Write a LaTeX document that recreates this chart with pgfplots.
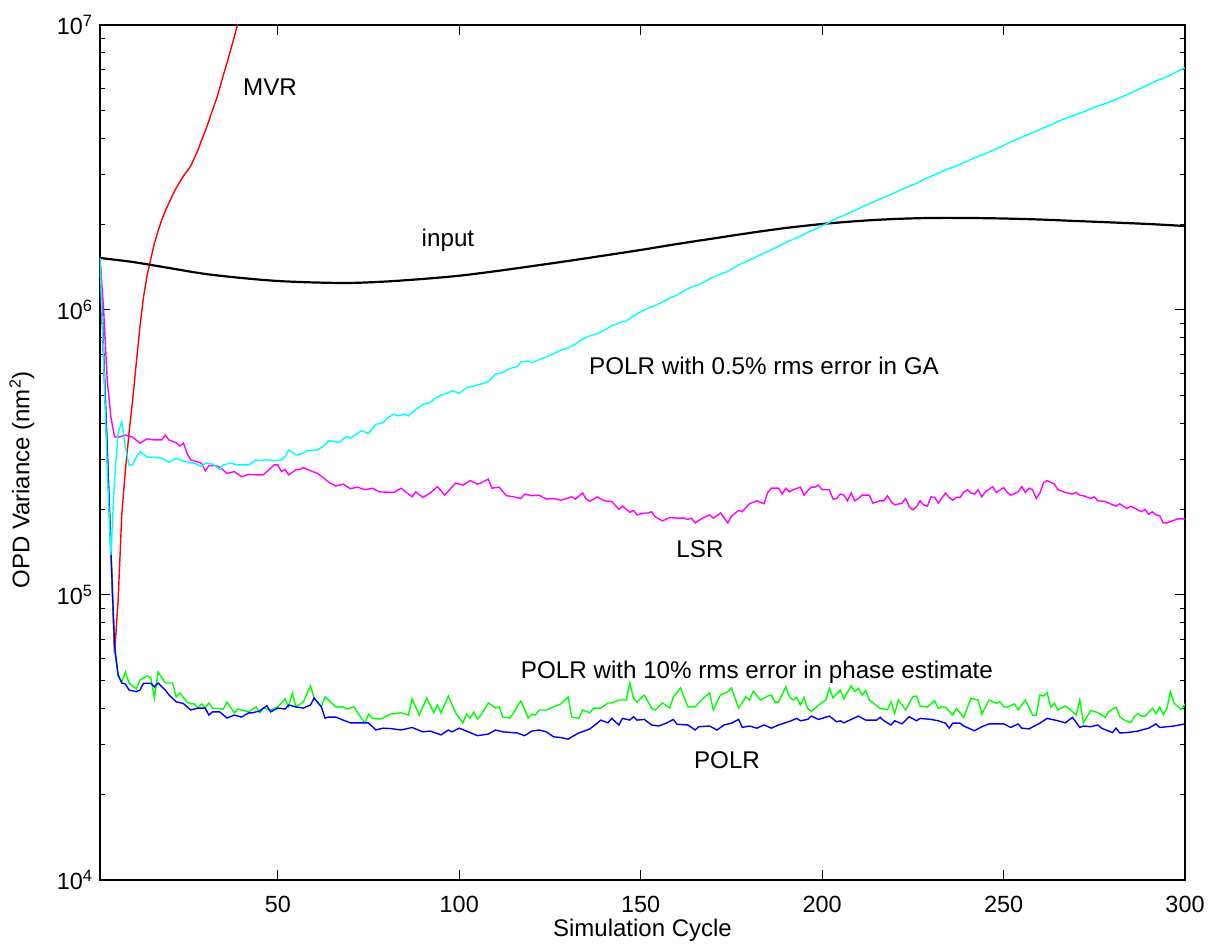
\documentclass[border=0pt]{standalone}
\usepackage{fontspec}
\setmainfont{Liberation Sans}
\usepackage{pgfplots}
\pgfplotsset{compat=1.18}
\definecolor{mred}{RGB}{255,0,0}
\definecolor{mcyan}{RGB}{0,255,255}
\definecolor{mmag}{RGB}{255,0,255}
\definecolor{mgreen}{RGB}{0,255,0}
\definecolor{mblue}{RGB}{0,0,255}
\begin{document}
\begin{tikzpicture}
\useasboundingbox (-50pt,-31.5pt) rectangle (554pt,440pt);
\begin{axis}[
  at={(0,0)}, anchor=south west,
  width=542.5pt, height=427.5pt, scale only axis,
  xmin=1, xmax=300, ymin=1e4, ymax=1e7, ymode=log,
  xtick={50,100,150,200,250,300},
  xticklabels={50,100,150,200,250,300},
  ytick={1e4,1e5,1e6,1e7},
  yticklabels={10\textsuperscript{4},10\textsuperscript{5},10\textsuperscript{6},10\textsuperscript{7}},
  minor ytick={2e4,3e4,4e4,5e4,6e4,7e4,8e4,9e4,2e5,3e5,4e5,5e5,6e5,7e5,8e5,9e5,2e6,3e6,4e6,5e6,6e6,7e6,8e6,9e6},
  tick align=inside,
  major tick length=5pt, minor tick length=2.5pt,
  tick style={black, line width=0.5pt},
  axis line style={line width=0.9pt},
  tick label style={font=\fontsize{11.7}{13}\selectfont},
  xticklabel style={yshift=-4.5pt},
  xlabel={Simulation Cycle},
  ylabel={OPD Variance (nm\textsuperscript{2})},
  every axis x label/.style={at={(axis description cs:0.5,-0.0585)}, anchor=center, font=\fontsize{12}{14}\selectfont},
  every axis y label/.style={at={(axis description cs:-0.072,0.468)}, anchor=center, rotate=90, font=\fontsize{12}{14}\selectfont},
  clip=true,
]
% MVR (red)
\addplot[mred, line width=0.7pt] coordinates {
(1,1.522e6)(2,6.95e5)(3,3.18e5)(4,1.44e5)(5,6.21e4)(6,9.60e4)(7,1.909e5)(8,2.745e5)(9,3.702e5)(10,4.833e5)
(11,6.52e5)(12,8.72e5)(13,1.111e6)(14,1.327e6)(15,1.510e6)(16,1.718e6)(17,1.893e6)(18,2.069e6)(19,2.225e6)(20,2.374e6)
(21,2.532e6)(22,2.680e6)(23,2.813e6)(24,2.952e6)(25,3.074e6)(26,3.201e6)(27,3.414e6)(28,3.642e6)(29,3.949e6)(30,4.247e6)
(31,4.604e6)(32,5.032e6)(33,5.456e6)(34,6.011e6)(35,6.676e6)(36,7.357e6)(37,8.171e6)(38,9.075e6)(39,1.016e7)(40,1.129e7)
};
% input (black)
\addplot[black, line width=1.1pt, smooth] coordinates {
(1,1.522e6)(10,1.474e6)(20,1.404e6)(30,1.338e6)(40,1.295e6)(50,1.264e6)(60,1.249e6)(70,1.244e6)(80,1.259e6)(90,1.285e6)
(100,1.319e6)(110,1.368e6)(120,1.425e6)(130,1.486e6)(140,1.553e6)(150,1.624e6)(160,1.704e6)(170,1.782e6)(180,1.863e6)(190,1.940e6)
(200,2.003e6)(210,2.052e6)(220,2.086e6)(230,2.103e6)(240,2.103e6)(250,2.094e6)(260,2.077e6)(270,2.052e6)(280,2.028e6)(290,2.003e6)(300,1.971e6)
};
% POLR 10% phase error (green)
\addplot[mgreen, line width=0.7pt] coordinates {
(1,1.522e6)(2,6.95e5)(3,3.18e5)(4,1.44e5)(5,6.41e4)(6,5.20e4)(7,4.95e4)(8,5.37e4)(9,4.91e4)(11,4.68e4)
(12,5.03e4)(14,5.20e4)(15,5.12e4)(16,4.35e4)(17,5.37e4)(19,4.91e4)(21,4.91e4)(22,4.39e4)(23,4.53e4)(25,4.21e4)
(26,4.15e4)(27,4.15e4)(28,4.01e4)(29,4.15e4)(30,4.01e4)(31,4.18e4)(32,4.01e4)(35,3.98e4)(36,4.21e4)(38,3.86e4)
(39,3.98e4)(42,3.89e4)(44,4.05e4)(45,3.86e4)(46,4.01e4)(48,3.95e4)(50,4.05e4)(52,4.32e4)(53,4.05e4)(54,4.53e4)
(55,4.05e4)(57,4.21e4)(59,4.80e4)(60,4.35e4)(62,4.05e4)(63,4.39e4)(64,4.28e4)(66,4.05e4)(68,4.05e4)(69,3.98e4)
(71,4.05e4)(72,3.86e4)(74,3.56e4)(75,3.82e4)(76,3.70e4)(78,3.67e4)(79,3.70e4)(81,3.82e4)(84,3.86e4)(86,3.79e4)
(87,4.32e4)(89,3.79e4)(91,4.35e4)(93,3.86e4)(94,4.11e4)(95,3.86e4)(97,4.42e4)(99,3.86e4)(101,3.56e4)(102,3.82e4)
(103,3.70e4)(104,3.89e4)(105,3.67e4)(106,3.79e4)(108,4.18e4)(110,4.01e4)(111,4.05e4)(112,3.73e4)(114,3.70e4)(117,4.25e4)
(119,3.70e4)(120,3.82e4)(121,3.79e4)(122,3.95e4)(124,3.95e4)(126,4.05e4)(128,4.15e4)(130,4.39e4)(131,3.73e4)(133,3.70e4)
(134,3.95e4)(136,3.86e4)(137,4.01e4)(139,4.01e4)(141,4.18e4)(142,4.18e4)(144,4.28e4)(146,4.28e4)(147,4.91e4)(148,4.35e4)
(149,4.21e4)(151,4.46e4)(153,4.01e4)(154,3.95e4)(156,4.18e4)(158,4.01e4)(159,4.39e4)(161,4.72e4)(163,4.05e4)(165,4.05e4)
(167,4.32e4)(169,4.53e4)(170,3.95e4)(172,4.46e4)(174,4.57e4)(175,4.72e4)(177,4.01e4)(179,4.39e4)(180,4.28e4)(181,4.60e4)
(183,4.28e4)(185,4.42e4)(186,4.46e4)(187,4.21e4)(188,4.21e4)(190,4.76e4)(191,4.39e4)(192,4.28e4)(193,4.37e4)(194,4.11e4)
(195,4.37e4)(196,4.00e4)(197,3.90e4)(199,4.11e4)(201,4.28e4)(202,4.71e4)(203,4.35e4)(205,4.64e4)(206,4.32e4)(208,4.80e4)
(209,4.58e4)(210,4.71e4)(211,4.46e4)(212,4.62e4)(213,4.28e4)(216,4.00e4)(218,3.96e4)(219,4.22e4)(220,3.84e4)(221,4.28e4)
(223,3.95e4)(225,4.40e4)(226,4.42e4)(227,4.08e4)(229,4.04e4)(231,4.26e4)(232,4.00e4)(233,4.06e4)(234,4.04e4)(236,3.79e4)
(237,4.00e4)(239,3.72e4)(241,4.34e4)(243,4.28e4)(244,3.82e4)(246,4.28e4)(248,4.17e4)(249,4.22e4)(250,4.06e4)(251,4.04e4)
(253,4.15e4)(254,3.95e4)(256,4.28e4)(258,3.79e4)(259,3.79e4)(260,4.46e4)(261,4.42e4)(262,4.54e4)(263,4.04e4)(264,4.17e4)
(265,3.95e4)(267,4.08e4)(268,4.00e4)(270,3.79e4)(271,4.28e4)(272,3.56e4)(274,3.93e4)(276,3.87e4)(278,3.72e4)(279,3.90e4)
(281,4.04e4)(282,3.74e4)(283,3.66e4)(285,3.56e4)(286,3.74e4)(287,3.84e4)(288,3.76e4)(289,3.76e4)(291,4.00e4)(292,3.84e4)
(293,4.04e4)(294,3.81e4)(295,4.00e4)(296,4.58e4)(297,4.17e4)(299,3.96e4)(300,4.15e4)
};
% POLR (blue)
\addplot[mblue, line width=0.7pt] coordinates {
(1,1.522e6)(2,6.95e5)(3,3.18e5)(4,1.44e5)(5,6.68e4)(6,5.24e4)(7,4.91e4)(8,4.87e4)(9,4.64e4)(11,4.58e4)
(12,4.64e4)(13,4.90e4)(15,4.90e4)(16,4.76e4)(17,4.91e4)(19,4.64e4)(20,4.46e4)(22,4.22e4)(24,4.16e4)(26,3.95e4)
(28,4.01e4)(30,4.01e4)(31,3.79e4)(32,3.89e4)(34,3.89e4)(36,3.70e4)(38,3.79e4)(40,3.73e4)(42,3.86e4)(43,3.86e4)
(45,3.92e4)(47,4.09e4)(48,3.89e4)(50,4.01e4)(52,3.98e4)(53,4.11e4)(55,4.05e4)(57,4.01e4)(59,4.11e4)(60,4.35e4)
(62,4.05e4)(63,3.70e4)(64,3.73e4)(66,3.73e4)(68,3.64e4)(70,3.56e4)(72,3.56e4)(75,3.56e4)(77,3.36e4)(79,3.41e4)
(81,3.40e4)(84,3.36e4)(87,3.43e4)(90,3.31e4)(92,3.33e4)(95,3.23e4)(97,3.36e4)(98,3.31e4)(100,3.41e4)(102,3.33e4)
(105,3.21e4)(108,3.25e4)(110,3.36e4)(112,3.31e4)(116,3.28e4)(118,3.21e4)(120,3.33e4)(122,3.36e4)(124,3.31e4)(126,3.18e4)
(128,3.16e4)(130,3.12e4)(131,3.18e4)(133,3.28e4)(136,3.39e4)(138,3.55e4)(139,3.64e4)(141,3.56e4)(142,3.69e4)(144,3.50e4)
(145,3.69e4)(147,3.64e4)(148,3.74e4)(149,3.64e4)(151,3.66e4)(153,3.50e4)(155,3.47e4)(157,3.55e4)(159,3.66e4)(160,3.52e4)
(163,3.50e4)(165,3.36e4)(166,3.45e4)(169,3.47e4)(171,3.36e4)(173,3.50e4)(175,3.55e4)(177,3.66e4)(178,3.43e4)(180,3.47e4)
(182,3.41e4)(184,3.50e4)(186,3.41e4)(188,3.50e4)(191,3.60e4)(193,3.69e4)(194,3.62e4)(196,3.66e4)(197,3.76e4)(199,3.66e4)
(202,3.76e4)(204,3.59e4)(205,3.62e4)(206,3.56e4)(208,3.66e4)(210,3.76e4)(212,3.64e4)(215,3.64e4)(216,3.72e4)(217,3.62e4)
(219,3.50e4)(220,3.62e4)(222,3.53e4)(224,3.74e4)(226,3.62e4)(227,3.69e4)(230,3.66e4)(232,3.62e4)(234,3.55e4)(235,3.41e4)
(236,3.55e4)(238,3.55e4)(239,3.47e4)(242,3.34e4)(244,3.45e4)(246,3.53e4)(248,3.53e4)(250,3.53e4)(252,3.43e4)(254,3.53e4)
(255,3.41e4)(257,3.39e4)(260,3.55e4)(262,3.69e4)(265,3.62e4)(267,3.56e4)(269,3.72e4)(271,3.43e4)(272,3.47e4)(274,3.45e4)
(276,3.50e4)(277,3.41e4)(280,3.29e4)(281,3.41e4)(282,3.28e4)(284,3.29e4)(287,3.33e4)(288,3.36e4)(290,3.41e4)(292,3.53e4)
(293,3.43e4)(295,3.45e4)(297,3.47e4)(300,3.53e4)
};
% LSR (magenta)
\addplot[mmag, line width=0.7pt] coordinates {
(1,1.522e6)(2,1.0e6)(3,5.68e5)(4,4.21e5)(5,3.59e5)(6,3.58e5)(8,3.64e5)(10,3.58e5)(12,3.41e5)(14,3.53e5)
(16,3.50e5)(18,3.50e5)(19,3.64e5)(20,3.50e5)(22,3.42e5)(23,3.33e5)(24,3.41e5)(25,3.14e5)(26,2.98e5)(29,2.90e5)
(30,2.73e5)(31,2.84e5)(33,2.84e5)(34,2.81e5)(36,2.67e5)(38,2.71e5)(40,2.60e5)(42,2.65e5)(44,2.64e5)(46,2.64e5)
(49,2.86e5)(50,2.86e5)(51,2.71e5)(52,2.76e5)(53,2.64e5)(55,2.75e5)(56,2.75e5)(57,2.80e5)(59,2.73e5)(61,2.67e5)
(63,2.55e5)(64,2.49e5)(66,2.41e5)(68,2.45e5)(70,2.36e5)(72,2.39e5)(74,2.34e5)(76,2.37e5)(78,2.30e5)(82,2.29e5)
(84,2.37e5)(87,2.21e5)(88,2.30e5)(90,2.20e5)(92,2.28e5)(94,2.40e5)(96,2.24e5)(99,2.47e5)(101,2.43e5)(103,2.52e5)
(105,2.45e5)(106,2.47e5)(108,2.55e5)(109,2.37e5)(111,2.39e5)(113,2.23e5)(115,2.21e5)(117,2.18e5)(118,2.26e5)(120,2.23e5)
(122,2.24e5)(124,2.17e5)(126,2.18e5)(128,2.15e5)(129,2.17e5)(131,2.21e5)(132,2.17e5)(134,2.28e5)(135,2.17e5)(136,2.13e5)
(138,2.21e5)(140,2.14e5)(142,2.13e5)(144,2.00e5)(145,2.05e5)(147,1.95e5)(148,1.98e5)(149,1.91e5)(151,1.94e5)(152,1.94e5)
(153,1.96e5)(154,1.88e5)(156,1.82e5)(158,1.87e5)(160,1.86e5)(162,1.86e5)(163,1.84e5)(164,1.86e5)(165,1.79e5)(167,1.86e5)
(169,1.91e5)(170,1.86e5)(172,1.94e5)(174,1.79e5)(175,1.89e5)(177,1.98e5)(178,1.96e5)(180,2.09e5)(182,2.14e5)(184,2.09e5)
(185,2.29e5)(186,2.37e5)(188,2.37e5)(189,2.26e5)(190,2.37e5)(191,2.30e5)(192,2.34e5)(194,2.39e5)(195,2.24e5)(196,2.32e5)
(197,2.39e5)(198,2.39e5)(199,2.43e5)(200,2.34e5)(202,2.34e5)(203,2.17e5)(204,2.18e5)(205,2.26e5)(206,2.24e5)(207,2.14e5)
(208,2.28e5)(209,2.14e5)(210,2.18e5)(211,2.24e5)(213,2.24e5)(214,2.10e5)(216,2.14e5)(217,2.14e5)(218,2.23e5)(219,2.13e5)
(220,2.07e5)(222,2.10e5)(223,2.18e5)(224,2.04e5)(225,1.99e5)(226,2.04e5)(227,2.14e5)(228,2.07e5)(229,2.05e5)(230,2.21e5)
(231,2.20e5)(232,2.10e5)(234,2.28e5)(235,2.20e5)(236,2.15e5)(237,2.20e5)(238,2.20e5)(239,2.29e5)(240,2.34e5)(241,2.28e5)
(242,2.26e5)(243,2.34e5)(244,2.21e5)(245,2.30e5)(247,2.40e5)(248,2.29e5)(250,2.38e5)(251,2.29e5)(252,2.24e5)(254,2.30e5)
(255,2.40e5)(256,2.29e5)(257,2.37e5)(258,2.34e5)(259,2.18e5)(260,2.28e5)(261,2.47e5)(262,2.52e5)(264,2.45e5)(265,2.34e5)
(267,2.29e5)(269,2.26e5)(270,2.29e5)(271,2.24e5)(272,2.23e5)(274,2.18e5)(275,2.21e5)(276,2.14e5)(278,2.13e5)(279,2.10e5)
(281,2.05e5)(282,2.09e5)(284,2.01e5)(285,2.05e5)(287,1.99e5)(288,1.96e5)(289,2.00e5)(290,1.92e5)(291,1.96e5)(292,1.91e5)
(293,1.90e5)(294,1.79e5)(295,1.79e5)(297,1.83e5)(298,1.85e5)(300,1.85e5)
};
% POLR with 0.5% GA error (cyan)
\addplot[mcyan, line width=0.7pt] coordinates {
(1,1.522e6)(2,6.68e5)(3,2.75e5)(4,1.38e5)(5,2.53e5)(6,3.73e5)(7,4.05e5)(8,3.31e5)(9,2.86e5)(10,2.86e5)
(11,3.05e5)(12,3.18e5)(14,3.05e5)(17,3.03e5)(18,3.02e5)(20,2.92e5)(22,3.02e5)(24,2.95e5)(27,2.90e5)(29,2.82e5)
(30,2.90e5)(32,2.88e5)(34,2.76e5)(35,2.86e5)(37,2.90e5)(39,2.86e5)(42,2.86e5)(44,2.98e5)(45,2.96e5)(47,2.98e5)
(49,2.96e5)(51,2.98e5)(52,3.06e5)(53,3.23e5)(55,3.10e5)(57,3.14e5)(58,3.21e5)(61,3.23e5)(63,3.36e5)(64,3.48e5)
(67,3.43e5)(69,3.61e5)(70,3.55e5)(73,3.77e5)(75,3.69e5)(77,3.97e5)(79,4.02e5)(80,4.17e5)(82,4.31e5)(83,4.25e5)
(85,4.31e5)(86,4.25e5)(88,4.48e5)(90,4.67e5)(92,4.73e5)(93,4.86e5)(95,5.03e5)(96,5.06e5)(98,5.21e5)(100,5.10e5)
(102,5.34e5)(104,5.41e5)(106,5.50e5)(108,5.61e5)(110,5.96e5)(112,6.03e5)(114,6.24e5)(116,6.33e5)(117,6.58e5)(119,6.62e5)
(120,6.53e5)(122,6.70e5)(124,6.84e5)(126,7.02e5)(128,7.24e5)(130,7.35e5)(132,7.60e5)(134,7.92e5)(136,8.11e5)(138,8.25e5)
(140,8.51e5)(142,8.80e5)(144,9.00e5)(146,9.15e5)(148,9.53e5)(150,9.85e5)(152,1.016e6)(154,1.035e6)(156,1.067e6)(158,1.100e6)
(160,1.129e6)(162,1.170e6)(164,1.204e6)(166,1.225e6)(168,1.264e6)(170,1.305e6)(172,1.338e6)(174,1.365e6)(176,1.415e6)(178,1.460e6)
(180,1.495e6)(182,1.540e6)(184,1.585e6)(186,1.625e6)(188,1.675e6)(190,1.725e6)(192,1.770e6)(194,1.815e6)(196,1.870e6)(198,1.920e6)
(200,1.975e6)(202,2.030e6)(204,2.100e6)(206,2.150e6)(208,2.205e6)(210,2.265e6)(212,2.330e6)(214,2.385e6)(216,2.460e6)(218,2.510e6)
(220,2.580e6)(222,2.650e6)(224,2.715e6)(226,2.780e6)(228,2.870e6)(230,2.945e6)(232,3.020e6)(234,3.100e6)(236,3.170e6)(238,3.245e6)
(240,3.330e6)(242,3.420e6)(244,3.500e6)(246,3.580e6)(248,3.680e6)(250,3.780e6)(252,3.890e6)(254,3.990e6)(256,4.090e6)(258,4.190e6)
(260,4.300e6)(262,4.410e6)(264,4.520e6)(266,4.640e6)(268,4.750e6)(270,4.850e6)(272,4.950e6)(274,5.080e6)(276,5.200e6)(278,5.300e6)
(280,5.410e6)(282,5.560e6)(284,5.690e6)(286,5.850e6)(288,6.010e6)(290,6.180e6)(292,6.360e6)(294,6.500e6)(296,6.680e6)(298,6.880e6)(300,7.065e6)
};
\node[font=\fontsize{12.1}{14}\selectfont] at (rel axis cs:0.1567,0.9275) {MVR};
\node[font=\fontsize{12.1}{14}\selectfont] at (rel axis cs:0.3207,0.7485) {input};
\node[font=\fontsize{12.1}{14}\selectfont] at (rel axis cs:0.6120,0.6012) {POLR with 0.5\% rms error in GA};
\node[font=\fontsize{12.1}{14}\selectfont] at (rel axis cs:0.5530,0.3871) {LSR};
\node[font=\fontsize{12.1}{14}\selectfont] at (rel axis cs:0.6055,0.2433) {POLR with 10\% rms error in phase estimate};
\node[font=\fontsize{12.1}{14}\selectfont] at (rel axis cs:0.5779,0.1404) {POLR};
\end{axis}
\end{tikzpicture}
\end{document}
